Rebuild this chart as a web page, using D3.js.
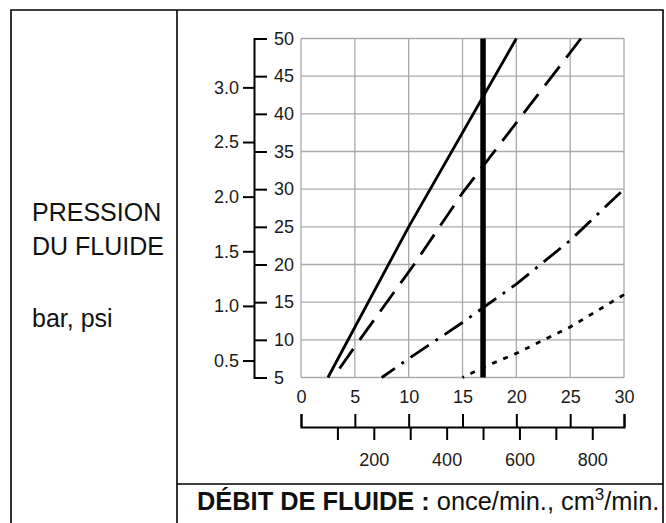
<!DOCTYPE html>
<html>
<head>
<meta charset="utf-8">
<script src="https://cdn.jsdelivr.net/npm/d3@7/dist/d3.min.js"></script>
<style>
  html, body { margin: 0; padding: 0; background: #fff; }
  svg { display: block; font-family: "Liberation Sans", Arial, Helvetica, sans-serif; }
  .axis path, .axis line { stroke: #000; stroke-width: 2; }
</style>
</head>
<body>
<svg id="chart" width="666" height="523"></svg>
<script>
// Fluid flow (oz/min) on the horizontal axis, fluid pressure (psi) on the vertical axis
const ozTicks = [0, 5, 10, 15, 20, 25, 30];
const psiTicks = [5, 10, 15, 20, 25, 30, 35, 40, 45, 50];
const barTicks = [0.5, 1.0, 1.5, 2.0, 2.5, 3.0];
const cm3Ticks = [100, 200, 300, 400, 500, 600, 700, 800];
const cm3Labels = [200, 400, 600, 800];
const markerCm3 = 500;

// Pressure curves: [oz/min, psi]
const seriesSolid = [[2.5, 5], [10, 25], [20, 50]];
const seriesDashed = [[3, 5], [5, 9.1], [10.5, 20], [15, 29.5], [26, 50]];
const seriesDashDot = [[7.5, 5], [10, 7.5], [15, 12.3], [20, 17.4], [25, 23.2], [29.7, 29.6]];
const seriesDotted = [[15, 5], [17, 6.4], [20, 8.2], [25, 11.7], [30, 16]];

const PSI_PER_BAR = 14.5038;
const CM3_PER_OZ = 29.5735;

const svg = d3.select("#chart");

const x = d3.scaleLinear().domain([0, 30]).range([301, 624]);
const y = d3.scaleLinear().domain([5, 50]).range([377.5, 38.5]);
const yBar = d3.scaleLinear().domain([5 / PSI_PER_BAR, 50 / PSI_PER_BAR]).range([y(5), y(50)]);
const xCm3 = d3.scaleLinear().domain([0, 30 * CM3_PER_OZ]).range([x(0), x(30)]);

// Frame
const frame = svg.append("g").attr("stroke", "#000").attr("stroke-width", 1.6).attr("fill", "none");
frame.append("path").attr("d", "M11,523V10H663V523");
frame.append("line").attr("x1", 177).attr("x2", 177).attr("y1", 10).attr("y2", 523);
frame.append("line").attr("x1", 177).attr("x2", 663).attr("y1", 484).attr("y2", 484);

// Left panel label
const lab = svg.append("g").attr("font-size", 25).attr("fill", "#111");
lab.append("text").attr("x", 32).attr("y", 221).text("PRESSION");
lab.append("text").attr("x", 32).attr("y", 255).text("DU FLUIDE");
lab.append("text").attr("x", 32).attr("y", 327).text("bar, psi");

// Grid
const grid = svg.append("g").attr("stroke", "#a9a9a9").attr("stroke-width", 1.3);
grid.selectAll("line.v").data(ozTicks).join("line").attr("class", "v")
  .attr("x1", d => x(d)).attr("x2", d => x(d))
  .attr("y1", y(50)).attr("y2", y(5));
grid.selectAll("line.h").data(psiTicks).join("line").attr("class", "h")
  .attr("x1", x(0)).attr("x2", x(30))
  .attr("y1", d => y(d)).attr("y2", d => y(d));

const styleAxis = g => g.attr("font-size", 18)
  .attr("font-family", "'Liberation Sans', Arial, Helvetica, sans-serif")
  .call(s => s.selectAll("text").attr("fill", "#1a1a1a"));

// Vertical axes: psi on the right of the spine, bar on the left
const axisX = 254;
svg.append("g").attr("class", "axis").attr("transform", `translate(${axisX},0)`)
  .call(d3.axisRight(y).tickValues(psiTicks).tickSize(13).tickPadding(7).tickFormat(d3.format("d")))
  .call(styleAxis);
svg.append("g").attr("class", "axis").attr("transform", `translate(${axisX},0)`)
  .call(d3.axisLeft(yBar).tickValues(barTicks).tickSize(11).tickPadding(4).tickFormat(d3.format(".1f")))
  .call(g => g.select(".domain").remove())
  .call(styleAxis);

// Horizontal axes: oz/min above the line, cm3/min below it
const axisY = 427;
svg.append("g").attr("class", "axis").attr("transform", `translate(0,${axisY})`)
  .call(d3.axisTop(x).tickValues(ozTicks).tickSize(13).tickPadding(11).tickFormat(d3.format("d")))
  .call(styleAxis);
svg.append("g").attr("class", "axis").attr("transform", `translate(0,${axisY})`)
  .call(d3.axisBottom(xCm3).tickValues(cm3Ticks).tickSize(13).tickPadding(13)
    .tickFormat(d => cm3Labels.includes(d) ? d : ""))
  .call(g => g.select(".domain").remove())
  .call(styleAxis);

// Curves; dash phase is set so each pattern finishes on a stroke at the upper end
const line = d3.line().x(d => x(d[0])).y(d => y(d[1]));
const curves = [
  { data: seriesSolid, dash: null },
  { data: seriesDashed, dash: [24, 11] },
  { data: seriesDashDot, dash: [22, 8, 3, 8] },
  { data: seriesDotted, dash: [5, 7] }
];
svg.append("g").selectAll("path").data(curves).join("path")
  .attr("d", d => line(d.data))
  .attr("fill", "none")
  .attr("stroke", "#000")
  .attr("stroke-width", 2.8)
  .attr("stroke-dasharray", d => d.dash ? d.dash.join(",") : null)
  .each(function (d) {
    if (!d.dash) return;
    const period = d3.sum(d.dash);
    const len = this.getTotalLength();
    d3.select(this).attr("stroke-dashoffset", d.dash[0] - (len % period));
  });

// Marker at 500 cm3/min
const mx = xCm3(markerCm3);
svg.append("line")
  .attr("x1", mx).attr("x2", mx)
  .attr("y1", y(50)).attr("y2", y(5))
  .attr("stroke", "#000").attr("stroke-width", 5.5);

// Bottom title
const title = svg.append("text").attr("x", 197).attr("y", 510).attr("font-size", 25.4).attr("fill", "#111");
title.append("tspan").attr("font-weight", "bold").text("DÉBIT DE FLUIDE :");
title.append("tspan").text(" once/min., cm");
title.append("tspan").attr("font-size", 17).attr("dy", -10).text("3");
title.append("tspan").attr("dy", 10).text("/min.");
</script>
</body>
</html>
